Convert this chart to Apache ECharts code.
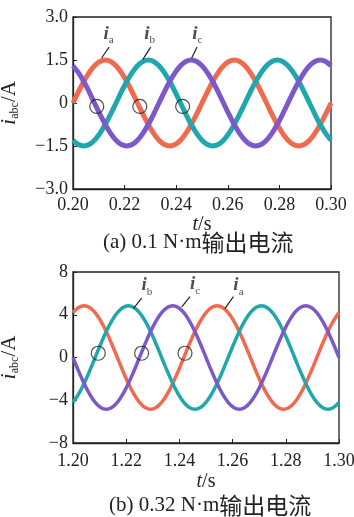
<!DOCTYPE html>
<html><head><meta charset="utf-8">
<script src="https://cdn.jsdelivr.net/npm/echarts@6/dist/echarts.min.js"></script>
<style>html,body{margin:0;padding:0;background:#fff}#c{width:354px;height:517px}</style>
</head><body><div id="c"></div>
<script>
// ---- data ----
const tTop = [0.20000,0.20208,0.20417,0.20625,0.20833,0.21042,0.21250,0.21458,0.21667,0.21875,0.22083,0.22292,0.22500,0.22708,0.22917,0.23125,0.23333,0.23542,0.23750,0.23958,0.24167,0.24375,0.24583,0.24792,0.25000,0.25208,0.25417,0.25625,0.25833,0.26042,0.26250,0.26458,0.26667,0.26875,0.27083,0.27292,0.27500,0.27708,0.27917,0.28125,0.28333,0.28542,0.28750,0.28958,0.29167,0.29375,0.29583,0.29792,0.30000];
const iaTop = [0,0.39,0.75,1.06,1.30,1.45,1.50,1.45,1.30,1.06,0.75,0.39,0,-0.39,-0.75,-1.06,-1.30,-1.45,-1.50,-1.45,-1.30,-1.06,-0.75,-0.39,0,0.39,0.75,1.06,1.30,1.45,1.50,1.45,1.30,1.06,0.75,0.39,0,-0.39,-0.75,-1.06,-1.30,-1.45,-1.50,-1.45,-1.30,-1.06,-0.75,-0.39,0];
const ibTop = [-1.30,-1.45,-1.50,-1.45,-1.30,-1.06,-0.75,-0.39,0,0.39,0.75,1.06,1.30,1.45,1.50,1.45,1.30,1.06,0.75,0.39,0,-0.39,-0.75,-1.06,-1.30,-1.45,-1.50,-1.45,-1.30,-1.06,-0.75,-0.39,0,0.39,0.75,1.06,1.30,1.45,1.50,1.45,1.30,1.06,0.75,0.39,0,-0.39,-0.75,-1.06,-1.30];
const icTop = [1.30,1.06,0.75,0.39,0,-0.39,-0.75,-1.06,-1.30,-1.45,-1.50,-1.45,-1.30,-1.06,-0.75,-0.39,0,0.39,0.75,1.06,1.30,1.45,1.50,1.45,1.30,1.06,0.75,0.39,0,-0.39,-0.75,-1.06,-1.30,-1.45,-1.50,-1.45,-1.30,-1.06,-0.75,-0.39,0,0.39,0.75,1.06,1.30,1.45,1.50,1.45,1.30];

const tBot = [1.20000,1.20208,1.20417,1.20625,1.20833,1.21042,1.21250,1.21458,1.21667,1.21875,1.22083,1.22292,1.22500,1.22708,1.22917,1.23125,1.23333,1.23542,1.23750,1.23958,1.24167,1.24375,1.24583,1.24792,1.25000,1.25208,1.25417,1.25625,1.25833,1.26042,1.26250,1.26458,1.26667,1.26875,1.27083,1.27292,1.27500,1.27708,1.27917,1.28125,1.28333,1.28542,1.28750,1.28958,1.29167,1.29375,1.29583,1.29792,1.30000];
const iaBot = [4.20,4.68,4.85,4.68,4.20,3.43,2.43,1.26,0,-1.26,-2.43,-3.43,-4.20,-4.68,-4.85,-4.68,-4.20,-3.43,-2.43,-1.26,0,1.26,2.43,3.43,4.20,4.68,4.85,4.68,4.20,3.43,2.43,1.26,0,-1.26,-2.43,-3.43,-4.20,-4.68,-4.85,-4.68,-4.20,-3.43,-2.43,-1.26,0,1.26,2.43,3.43,4.20];
const ibBot = [-4.20,-3.43,-2.43,-1.26,0,1.26,2.43,3.43,4.20,4.68,4.85,4.68,4.20,3.43,2.43,1.26,0,-1.26,-2.43,-3.43,-4.20,-4.68,-4.85,-4.68,-4.20,-3.43,-2.43,-1.26,0,1.26,2.43,3.43,4.20,4.68,4.85,4.68,4.20,3.43,2.43,1.26,0,-1.26,-2.43,-3.43,-4.20,-4.68,-4.85,-4.68,-4.20];
const icBot = [0,-1.26,-2.43,-3.43,-4.20,-4.68,-4.85,-4.68,-4.20,-3.43,-2.43,-1.26,0,1.26,2.43,3.43,4.20,4.68,4.85,4.68,4.20,3.43,2.43,1.26,0,-1.26,-2.43,-3.43,-4.20,-4.68,-4.85,-4.68,-4.20,-3.43,-2.43,-1.26,0,1.26,2.43,3.43,4.20,4.68,4.85,4.68,4.20,3.43,2.43,1.26,0];

// circled crossing points
const circTopT = [0.2092, 0.2259, 0.2425];
const circTopV = [-0.12, -0.12, -0.12];
const circBotT = [1.2095, 1.2258, 1.2421];
const circBotV = [0.4, 0.4, 0.4];

// phase labels (name, label pos, leader start, leader end)
const lblTopName = ['a','b','c'];
const lblTopT = [0.2138, 0.2297, 0.2482];
const lblTopV = [2.42, 2.42, 2.42];
const leadTop = [[[0.2140,1.95],[0.2111,1.57]],[[0.2301,1.95],[0.2271,1.52]],[[0.2481,1.95],[0.2460,1.57]]];
const lblBotName = ['b','c','a'];
const lblBotT = [1.2278, 1.2459, 1.2622];
const lblBotV = [6.75, 6.85, 6.75];
const leadBot = [[[1.2258,5.55],[1.2227,4.58]],[[1.2440,5.70],[1.2409,4.73]],[[1.2603,5.70],[1.2571,4.58]]];

const yTicksTop = {'-3':'\u22123.0','-1.5':'\u22121.5','0':'0','1.5':'1.5','3':'3.0'};
const yTicksBot = {'-8':'\u22128','-4':'\u22124','0':'0','4':'4','8':'8'};

const RED = '#ef6a4f', TEAL = '#1fa7ad', PURPLE = '#7c59c8';
const SERIF = "'Liberation Serif','Times New Roman',serif";
const CJK = "'Noto Sans CJK SC',sans-serif";

const zip = (t, v) => t.map((x, i) => [x, v[i]]);

const chart = echarts.init(document.getElementById('c'), null, {renderer: 'canvas'});

function xAx(gi, min, max) {
  return {
    type: 'value', gridIndex: gi, min: min, max: max, interval: 0.02,
    name: '{it|t}/s', nameLocation: 'middle', nameGap: gi === 0 ? 21 : 29,
    nameTextStyle: {fontFamily: SERIF, fontSize: 20, color: '#222', rich: {it: {fontStyle: 'italic', fontFamily: SERIF, fontSize: 20, color: '#222'}}},
    axisLine: {show: true, onZero: false, lineStyle: {color: '#222', width: 1.3}},
    axisTick: {show: true, inside: true, length: 4, lineStyle: {color: '#222'}},
    axisLabel: {fontFamily: SERIF, fontSize: 18, color: '#222', margin: gi === 0 ? 7 : 9, formatter: v => v.toFixed(2)},
    splitLine: {show: false}
  };
}
function yAx(gi, min, max, iv, map) {
  return {
    type: 'value', gridIndex: gi, min: min, max: max, interval: iv,
    name: '{i|i}{s|abc}{n|/A}', nameLocation: 'middle', nameRotate: 90, nameGap: 52,
    nameTextStyle: {color: '#222', rich: {
      i: {fontStyle: 'italic', fontFamily: SERIF, fontSize: 22, color: '#222'},
      s: {fontFamily: SERIF, fontSize: 12, color: '#222', padding: [12, 0, 0, 0]},
      n: {fontFamily: SERIF, fontSize: 21, color: '#222'}}},
    axisLine: {show: true, onZero: false, lineStyle: {color: '#222', width: 1.3}},
    axisTick: {show: true, inside: true, length: 4, lineStyle: {color: '#222'}},
    axisLabel: {fontFamily: SERIF, fontSize: 18, color: '#222', margin: 5, formatter: v => map[String(v)] ?? String(v)},
    splitLine: {show: false}
  };
}
function lineS(gi, t, v, color, w) {
  return {type: 'line', xAxisIndex: gi, yAxisIndex: gi, data: zip(t, v), smooth: 0.35, showSymbol: false,
    symbol: 'none', lineStyle: {color: color, width: w}, silent: true, animation: false};
}
function circS(gi, t, v) {
  return {type: 'scatter', xAxisIndex: gi, yAxisIndex: gi, data: zip(t, v), symbol: 'circle', symbolSize: 14,
    itemStyle: {color: 'rgba(0,0,0,0)', borderColor: '#222', borderWidth: 1.2}, z: 5, silent: true, animation: false};
}
function lblS(gi, names, t, v, leads) {
  return {type: 'scatter', xAxisIndex: gi, yAxisIndex: gi, symbolSize: 0, z: 6, silent: true, animation: false,
    data: names.map((n, i) => ({value: [t[i], v[i]], label: {show: true, position: 'inside', formatter: '{i|i}{s|' + n + '}'}})),
    label: {rich: {
      i: {fontStyle: 'italic', fontWeight: 'bold', fontFamily: SERIF, fontSize: 19, color: '#222'},
      s: {fontFamily: SERIF, fontSize: 11, color: '#222', padding: [13, 0, 0, 0]}}},
    markLine: {silent: true, symbol: 'none', animation: false, label: {show: false},
      lineStyle: {color: '#222', width: 1.2, type: 'solid'},
      data: leads.map(p => [{coord: p[0]}, {coord: p[1]}])}
  };
}

chart.setOption({
  animation: false,
  backgroundColor: '#fff',
  grid: [
    {left: 73, top: 17, width: 258, height: 172, containLabel: false, outerBoundsMode: 'none', show: true, borderColor: '#222', borderWidth: 1.3, backgroundColor: 'transparent'},
    {left: 73, top: 272, width: 266, height: 171, containLabel: false, outerBoundsMode: 'none', show: true, borderColor: '#222', borderWidth: 1.3, backgroundColor: 'transparent'}
  ],
  xAxis: [xAx(0, 0.2, 0.3), xAx(1, 1.2, 1.3)],
  yAxis: [yAx(0, -3, 3, 1.5, yTicksTop), yAx(1, -8, 8, 4, yTicksBot)],
  series: [
    lineS(0, tTop, iaTop, RED, 5), lineS(0, tTop, ibTop, TEAL, 5), lineS(0, tTop, icTop, PURPLE, 5),
    circS(0, circTopT, circTopV), lblS(0, lblTopName, lblTopT, lblTopV, leadTop),
    lineS(1, tBot, iaBot, RED, 3.5), lineS(1, tBot, ibBot, TEAL, 3.5), lineS(1, tBot, icBot, PURPLE, 3.5),
    circS(1, circBotT, circBotV), lblS(1, lblBotName, lblBotT, lblBotV, leadBot)
  ],
  graphic: [
    {type: 'text', left: 103, top: 231, style: {text: '{l|(a) 0.1 N\u00b7m}{c|输出电流}',
      rich: {l: {fontFamily: SERIF, fontSize: 21, fill: '#222'}, c: {fontFamily: CJK, fontSize: 23, fill: '#222'}}}},
    {type: 'text', left: 109, top: 494, style: {text: '{l|(b) 0.32 N\u00b7m}{c|输出电流}',
      rich: {l: {fontFamily: SERIF, fontSize: 21, fill: '#222'}, c: {fontFamily: CJK, fontSize: 23, fill: '#222'}}}}
  ]
});
</script></body></html>
